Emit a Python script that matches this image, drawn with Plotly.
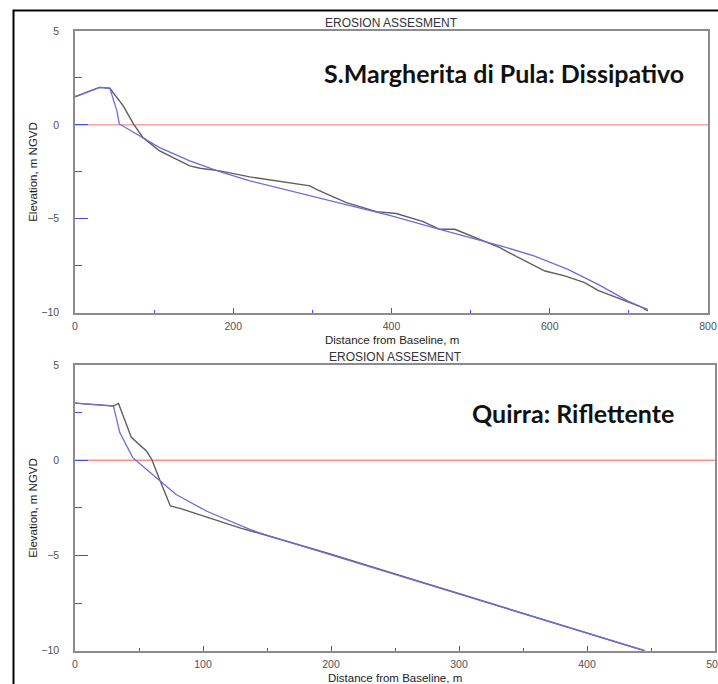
import plotly.graph_objects as go

W, H = 718, 684

# --- S.Margherita di Pula profile (distance m, elevation m NGVD) ---
pula_blue_x = [0, 31, 44, 53, 56, 86, 107, 145, 183, 221, 250, 300, 350, 400, 461, 500, 539, 580, 623, 661, 699, 716, 724]
pula_blue_y = [1.5, 2.0, 1.95, 0.75, 0.05, -0.68, -1.21, -1.92, -2.49, -2.98, -3.28, -3.80, -4.32, -4.85, -5.56, -6.02, -6.45, -6.98, -7.69, -8.49, -9.38, -9.70, -9.82]

pula_gray_x = [0, 31, 44, 61, 74, 86, 107, 145, 158, 175, 183, 221, 297, 305, 343, 381, 406, 440, 461, 480, 516, 537, 551, 594, 619, 644, 661, 716, 724]
pula_gray_y = [1.5, 2.0, 1.95, 1.01, 0.04, -0.68, -1.39, -2.18, -2.31, -2.41, -2.45, -2.77, -3.25, -3.43, -4.14, -4.62, -4.72, -5.15, -5.56, -5.56, -6.18, -6.54, -6.86, -7.78, -8.04, -8.40, -8.81, -9.70, -9.91]

# --- Quirra profile ---
quirra_blue_x = [0, 30, 35, 45, 58, 79, 103, 137, 152, 200, 250, 300, 350, 400, 445]
quirra_blue_y = [3.0, 2.85, 1.45, 0.15, -0.6, -1.8, -2.68, -3.64, -3.99, -4.97, -6.0, -7.03, -8.05, -9.08, -10.0]

quirra_gray_x = [0, 30, 34, 44, 56, 60, 66, 74.5, 82, 108, 130, 150, 200, 250, 300, 350, 400, 445]
quirra_gray_y = [3.0, 2.84, 2.98, 1.2, 0.47, 0.04, -1.0, -2.4, -2.53, -3.1, -3.58, -3.95, -4.93, -5.97, -7.0, -8.03, -9.06, -10.0]

chart_title = "EROSION ASSESMENT"
x_title = "Distance from Baseline, m"
y_title = "Elevation, m NGVD"
labels = ["S.Margherita di Pula: Dissipativo", "Quirra: Riflettente"]
x_ranges = [800, 500]
x_dticks = [200, 100]

BLUE = "#6c6cdc"
GRAY = "#5e5e5e"
RED = "#ff8a8a"
TICK = "#4646ff"
FRAME = "#8c8c8c"
AXFONT = "Liberation Sans, Arial"


def px_x(p):
    return p / W


def px_y(p):
    return (H - p) / H


# pixel boxes of the two plot areas: (left, right, top, bottom)
boxes = [(75, 708, 31, 312.7), (75, 715, 365, 650.7)]

fig = go.Figure()

series = [
    (pula_blue_x, pula_blue_y, pula_gray_x, pula_gray_y),
    (quirra_blue_x, quirra_blue_y, quirra_gray_x, quirra_gray_y),
]

annotations = []
for i, (bx, by, gx, gy) in enumerate(series):
    xa = "x" if i == 0 else "x2"
    ya = "y" if i == 0 else "y2"
    fig.add_trace(go.Scatter(x=[0, x_ranges[i]], y=[0, 0], mode="lines",
                             line=dict(color=RED, width=1.4), xaxis=xa, yaxis=ya,
                             showlegend=False, hoverinfo="skip"))
    fig.add_trace(go.Scatter(x=gx, y=gy, mode="lines",
                             line=dict(color=GRAY, width=1.4), xaxis=xa, yaxis=ya,
                             showlegend=False))
    fig.add_trace(go.Scatter(x=bx, y=by, mode="lines",
                             line=dict(color=BLUE, width=1.3), xaxis=xa, yaxis=ya,
                             showlegend=False))

    l, r, t, b = boxes[i]
    xkey = "xaxis" if i == 0 else "xaxis2"
    ykey = "yaxis" if i == 0 else "yaxis2"
    fig.layout[xkey] = dict(
        domain=[px_x(l), px_x(r)], range=[0, x_ranges[i]], anchor=ya,
        automargin=False, ticklabeloverflow="allow",
        showgrid=False, zeroline=False, showline=True, linecolor=FRAME,
        linewidth=1.5, mirror=True, ticks="inside", ticklen=5, tickwidth=1.3,
        tickcolor=TICK, dtick=x_dticks[i], tick0=0,
        minor=dict(ticks="inside", ticklen=3, tickwidth=1.2, tickcolor=TICK,
                   dtick=x_dticks[i] / 2),
        tickfont=dict(family=AXFONT, size=10.5, color="#505050"),
        ticklabelstandoff=3,
    )
    fig.layout[ykey] = dict(
        domain=[px_y(b), px_y(t)], range=[-10, 5], anchor=xa,
        automargin=False,
        showgrid=False, zeroline=False, showline=True, linecolor=FRAME,
        linewidth=1.5, mirror=True, ticks="inside", ticklen=13, tickwidth=1.3,
        tickcolor=TICK, dtick=5, tick0=0,
        minor=dict(ticks="inside", ticklen=7, tickwidth=1.2, tickcolor=TICK,
                   dtick=2.5),
        tickfont=dict(family=AXFONT, size=10.5, color="#505050"),
        ticklabelstandoff=12,
    )

    cx = (l + r) / 2
    annotations.append(dict(text=chart_title, x=px_x(cx), y=px_y(t - 8),
                            xref="paper", yref="paper", showarrow=False,
                            xanchor="center", yanchor="middle",
                            font=dict(family=AXFONT, size=12, color="#333333")))
    annotations.append(dict(text=x_title, x=px_x(cx), y=px_y(b + 27),
                            xref="paper", yref="paper", showarrow=False,
                            xanchor="center", yanchor="middle",
                            font=dict(family=AXFONT, size=11.5, color="#222222")))
    annotations.append(dict(text=y_title, x=px_x(33), y=px_y((t + b) / 2),
                            xref="paper", yref="paper", showarrow=False, textangle=-90,
                            xanchor="center", yanchor="middle",
                            font=dict(family=AXFONT, size=11.5, color="#222222")))

annotations.append(dict(text=labels[0], x=px_x(686), y=px_y(73),
                        xref="paper", yref="paper", showarrow=False,
                        xanchor="right", yanchor="middle",
                        font=dict(family="Lato", size=25, color="#111111", weight="bold")))
annotations.append(dict(text=labels[1], x=px_x(676), y=px_y(413),
                        xref="paper", yref="paper", showarrow=False,
                        xanchor="right", yanchor="middle",
                        font=dict(family="Lato", size=25, color="#111111", weight="bold")))

fig.update_layout(
    width=W, height=H,
    margin=dict(l=0, r=0, t=0, b=0, autoexpand=False),
    paper_bgcolor="white", plot_bgcolor="white",
    annotations=annotations,
    shapes=[dict(type="rect", xref="paper", yref="paper",
                 x0=px_x(13.5), x1=1.2, y0=-0.2, y1=px_y(10.5),
                 line=dict(color="black", width=2), layer="above")],
)

fig.write_html("out.html")
